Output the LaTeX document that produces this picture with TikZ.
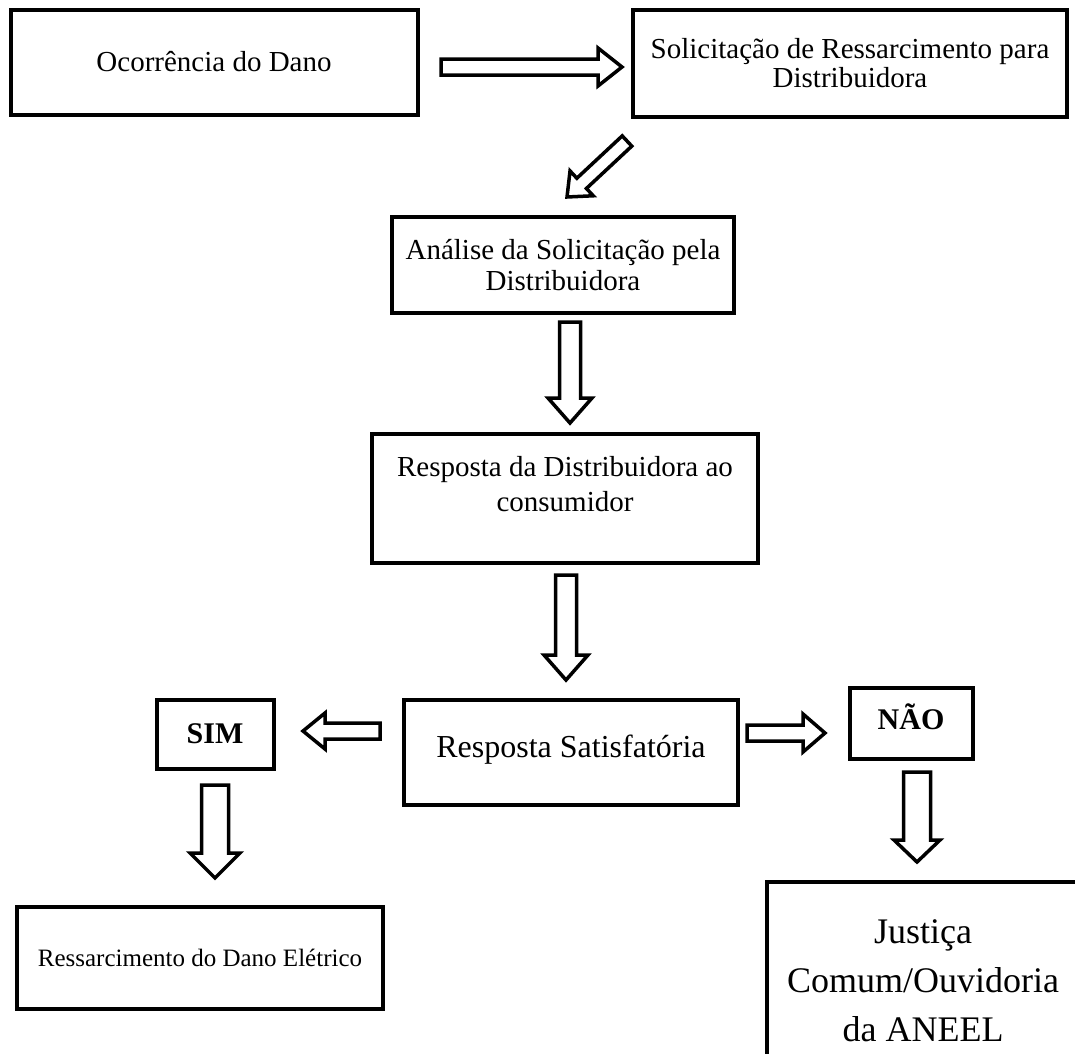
\documentclass[tikz,border=0pt]{standalone}
\usepackage{fontspec}
\setmainfont{Liberation Serif}
\usetikzlibrary{calc}

\begin{document}
\begin{tikzpicture}[
    x=1pt, y=1pt,
    box/.style={rectangle, draw=black, line width=4pt, fill=white,
        align=center, inner sep=2pt, font=\fontsize{29}{32}\selectfont},
    blockarrow/.style n args={3}{draw=black, line width=3.5pt, fill=white,
        line join=miter,
        to path={let \p1=(\tikztostart), \p2=(\tikztotarget),
            \n1={atan2(\y2-\y1,\x2-\x1)}, \n2={veclen(\x2-\x1,\y2-\y1)} in
            {[shift={(\p1)}, rotate=\n1]
            (0pt,-#1) -- ({\n2-#3},-#1) -- ({\n2-#3},-#2) -- (\n2,0pt)
            -- ({\n2-#3},#2) -- ({\n2-#3},#1) -- (0pt,#1) -- cycle}}}
]
    \clip (0,0) rectangle (1075,-1053);
    \useasboundingbox (0,0) rectangle (1075,-1053);
    \node[box, minimum width=407pt, minimum height=105pt] (dano) at (214,-62) {Ocorrência do Dano};
    \node[box, minimum width=434pt, minimum height=107pt, font=\fontsize{29}{29}\selectfont] (solic) at (850,-63) {Solicitação de Ressarcimento para\\Distribuidora};
    \node[box, minimum width=342pt, minimum height=96pt, font=\fontsize{29}{31}\selectfont] (analise) at (563,-265) {Análise da Solicitação pela\\Distribuidora};
    \node[box, minimum width=386pt, minimum height=129pt, font=\fontsize{29}{35}\selectfont, text depth=29pt] (resp) at (565,-498) {Resposta da Distribuidora ao\\consumidor};
    \node[box, minimum width=334pt, minimum height=105pt, font=\fontsize{32}{36}\selectfont, text depth=12pt] (satisf) at (571,-752) {Resposta Satisfatória};
    \node[box, minimum width=117pt, minimum height=69pt, font=\fontsize{30}{34}\selectfont\bfseries] (sim) at (215,-734) {SIM};
    \node[box, minimum width=123pt, minimum height=71pt, font=\fontsize{30}{34}\selectfont\bfseries, text depth=12pt] (nao) at (911,-723) {NÃO};
    \node[box, minimum width=366pt, minimum height=102pt, font=\fontsize{25}{30}\selectfont] (ressarc) at (200,-958) {Ressarcimento do Dano Elétrico};
    \node[box, minimum width=312pt, minimum height=198pt, font=\fontsize{36}{49}\selectfont] (justica) at (923,-981) {Justiça\\Comum/Ouvidoria\\da ANEEL};
    % arrow ends
    \coordinate (a1s) at (441,-67);
    \coordinate (a1e) at (622,-67);
    \coordinate (a2s) at (627,-141);
    \coordinate (a2e) at (567,-197);
    \coordinate (a3s) at (570,-322);
    \coordinate (a3e) at (570,-423);
    \coordinate (a4s) at (566,-575);
    \coordinate (a4e) at (566,-680);
    \coordinate (a5s) at (380,-731);
    \coordinate (a5e) at (303,-731);
    \coordinate (a6s) at (747,-733);
    \coordinate (a6e) at (825,-733);
    \coordinate (a7s) at (215,-785);
    \coordinate (a7e) at (215,-878);
    \coordinate (a8s) at (917,-772);
    \coordinate (a8e) at (917,-862);
    \draw[blockarrow={8pt}{19pt}{24pt}] (a1s) to (a1e);
    \draw[blockarrow={7pt}{17pt}{20pt}] (a2s) to (a2e);
    \draw[blockarrow={10.5pt}{22pt}{25pt}] (a3s) to (a3e);
    \draw[blockarrow={10.5pt}{22pt}{25pt}] (a4s) to (a4e);
    \draw[blockarrow={8pt}{18pt}{22pt}] (a5s) to (a5e);
    \draw[blockarrow={8pt}{19pt}{22pt}] (a6s) to (a6e);
    \draw[blockarrow={13.5pt}{25pt}{25pt}] (a7s) to (a7e);
    \draw[blockarrow={13.5pt}{23pt}{22pt}] (a8s) to (a8e);
\end{tikzpicture}
\end{document}
